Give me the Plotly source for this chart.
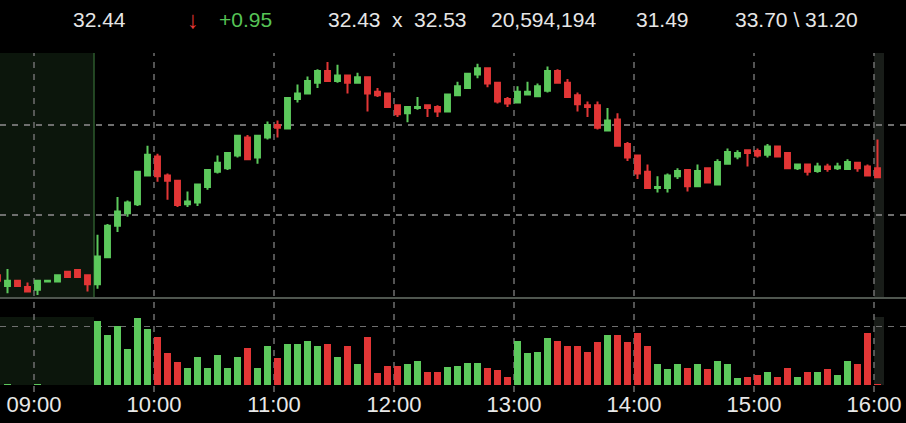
import plotly.graph_objects as go
import pandas as pd

# ---------------- data (5-minute bars) ----------------
times = ["08:40", "08:45", "08:50", "08:55", "09:00", "09:05", "09:10", "09:15", "09:20", "09:25",
         "09:30", "09:35", "09:40", "09:45", "09:50", "09:55",
         "10:00", "10:05", "10:10", "10:15", "10:20", "10:25", "10:30", "10:35", "10:40", "10:45", "10:50", "10:55",
         "11:00", "11:05", "11:10", "11:15", "11:20", "11:25", "11:30", "11:35", "11:40", "11:45", "11:50", "11:55",
         "12:00", "12:05", "12:10", "12:15", "12:20", "12:25", "12:30", "12:35", "12:40", "12:45", "12:50", "12:55",
         "13:00", "13:05", "13:10", "13:15", "13:20", "13:25", "13:30", "13:35", "13:40", "13:45", "13:50", "13:55",
         "14:00", "14:05", "14:10", "14:15", "14:20", "14:25", "14:30", "14:35", "14:40", "14:45", "14:50", "14:55",
         "15:00", "15:05", "15:10", "15:15", "15:20", "15:25", "15:30", "15:35", "15:40", "15:45", "15:50", "15:55",
         "16:00"]

opens = [31.33, 31.21, 31.27, 31.20, 31.17, 31.26, 31.26, 31.37, 31.39, 31.33,
         31.23, 31.53, 31.88, 32.02, 32.12, 32.44,
         32.65, 32.44, 32.38, 32.12, 32.14, 32.31, 32.48, 32.52, 32.66, 32.86, 32.64, 32.86,
         33.00, 32.96, 33.29, 33.35, 33.47, 33.60, 33.49, 33.55, 33.47, 33.53, 33.37, 33.35,
         33.22, 33.13, 33.19, 33.22, 33.20, 33.15, 33.33, 33.41, 33.56, 33.63, 33.47, 33.29,
         33.25, 33.34, 33.32, 33.38, 33.60, 33.47, 33.33, 33.22, 33.22, 32.94, 33.06, 32.79,
         32.66, 32.48, 32.30, 32.30, 32.43, 32.50, 32.32, 32.52, 32.34, 32.57, 32.65, 32.72,
         32.71, 32.67, 32.76, 32.69, 32.52, 32.56, 32.49, 32.54, 32.52, 32.51, 32.58, 32.54,
         32.52]

highs = [31.33, 31.40, 31.27, 31.25, 31.28, 31.27, 31.33, 31.37, 31.39, 31.33,
         31.78, 31.90, 32.20, 32.16, 32.48, 32.77,
         32.68, 32.46, 32.39, 32.26, 32.34, 32.50, 32.66, 32.70, 32.88, 32.89, 32.88, 33.04,
         33.05, 33.30, 33.45, 33.54, 33.62, 33.70, 33.67, 33.55, 33.58, 33.53, 33.41, 33.35,
         33.22, 33.20, 33.31, 33.22, 33.22, 33.34, 33.48, 33.57, 33.68, 33.63, 33.48, 33.31,
         33.43, 33.48, 33.46, 33.65, 33.62, 33.51, 33.36, 33.26, 33.26, 33.19, 33.13, 32.81,
         32.67, 32.56, 32.43, 32.46, 32.52, 32.50, 32.56, 32.52, 32.62, 32.74, 32.72, 32.72,
         32.74, 32.79, 32.76, 32.69, 32.56, 32.56, 32.58, 32.57, 32.58, 32.62, 32.58, 32.56,
         32.84]

lows = [31.26, 31.13, 31.21, 31.15, 31.11, 31.25, 31.26, 31.31, 31.31, 31.15,
        31.18, 31.52, 31.81, 31.98, 32.10, 32.44,
        32.37, 32.17, 32.09, 32.09, 32.10, 32.28, 32.46, 32.50, 32.64, 32.62, 32.57, 32.84,
        32.86, 32.96, 33.25, 33.35, 33.41, 33.49, 33.47, 33.35, 33.47, 33.15, 33.31, 33.19,
        33.09, 33.03, 33.17, 33.09, 33.09, 33.15, 33.33, 33.40, 33.52, 33.42, 33.24, 33.20,
        33.25, 33.34, 33.31, 33.36, 33.47, 33.30, 33.15, 33.09, 32.95, 32.93, 32.77, 32.60,
        32.40, 32.30, 32.25, 32.25, 32.40, 32.26, 32.32, 32.36, 32.34, 32.57, 32.62, 32.54,
        32.64, 32.64, 32.65, 32.52, 32.50, 32.44, 32.47, 32.48, 32.50, 32.51, 32.48, 32.43,
        32.42]

closes = [31.27, 31.27, 31.21, 31.15, 31.27, 31.27, 31.33, 31.31, 31.31, 31.23,
          31.54, 31.88, 32.04, 32.14, 32.48, 32.67,
          32.43, 32.38, 32.11, 32.15, 32.34, 32.50, 32.58, 32.69, 32.88, 32.62, 32.88, 33.00,
          32.97, 33.30, 33.35, 33.49, 33.60, 33.49, 33.55, 33.47, 33.53, 33.35, 33.33, 33.20,
          33.12, 33.20, 33.20, 33.19, 33.15, 33.34, 33.43, 33.57, 33.63, 33.46, 33.26, 33.24,
          33.37, 33.37, 33.43, 33.60, 33.47, 33.31, 33.23, 33.20, 32.97, 33.05, 32.77, 32.64,
          32.46, 32.30, 32.31, 32.44, 32.49, 32.32, 32.49, 32.36, 32.59, 32.70, 32.69, 32.69,
          32.66, 32.76, 32.65, 32.52, 32.56, 32.48, 32.54, 32.51, 32.54, 32.59, 32.52, 32.44,
          32.42]

# volume in thousands of shares
volumes = [0, 6, 0, 0, 6, 0, 0, 0, 0, 0,
           386, 300, 354, 214, 400, 334,
           290, 190, 136, 104, 170, 104, 180, 104, 170, 224, 104, 234,
           160, 244, 244, 266, 234, 244, 170, 234, 126, 290, 70, 116,
           116, 126, 146, 80, 80, 106, 114, 134, 134, 104, 90, 50,
           266, 190, 200, 280, 266, 234, 234, 200, 256, 300, 300, 256,
           310, 234, 126, 94, 126, 104, 126, 94, 146, 126, 40, 50,
           60, 80, 50, 104, 50, 80, 80, 94, 60, 146, 126, 310,
           6]

hour_ticks = ["09:00", "10:00", "11:00", "12:00", "13:00", "14:00", "15:00", "16:00"]
price_grid = [32, 33]
volume_grid = [350]

header_items = [
    ("32.44", 99, "#e6e6e6", 21),
    ("\u2193", 193, "#e53935", 24),
    ("+0.95", 245, "#56c456", 21),
    ("32.43", 354, "#e6e6e6", 21),
    ("x", 397, "#e6e6e6", 21),
    ("32.53", 440, "#e6e6e6", 21),
    ("20,594,194", 543, "#e6e6e6", 21),
    ("31.49", 662, "#e6e6e6", 21),
    ("33.70 \\ 31.20", 796, "#e6e6e6", 21),
]

# ---------------- styling ----------------
W, H = 906, 423
GREEN = "#5cc95c"
RED = "#e23636"
GRID = "#6f6f6f"
DAY = "2024-01-02 "

def py(px):  # paper fraction from pixel row
    return 1 - px / H

t = pd.to_datetime([DAY + s for s in times]) + pd.Timedelta(seconds=105)
vol_colors = [GREEN if c >= o else RED for o, c in zip(opens, closes)]

fig = go.Figure()
fig.add_trace(go.Candlestick(
    x=t, open=opens, high=highs, low=lows, close=closes,
    increasing=dict(line=dict(color=GREEN, width=2), fillcolor=GREEN),
    decreasing=dict(line=dict(color=RED, width=2), fillcolor=RED),
    whiskerwidth=0, xaxis="x", yaxis="y", hoverinfo="skip",
))
fig.add_trace(go.Bar(
    x=t, y=volumes, marker=dict(color=vol_colors, line=dict(width=0)),
    width=200000, xaxis="x2", yaxis="y2", hoverinfo="skip",
))

x_start = pd.Timestamp(DAY + "09:00") - pd.Timedelta(minutes=17)
x_range = [x_start, x_start + pd.Timedelta(minutes=W / 2)]

shapes = []
# session shading
for yref in ["y domain", "y2 domain"]:
    shapes.append(dict(type="rect", xref="x", yref=yref, x0=DAY + "08:00", x1=DAY + "09:30",
                       y0=0, y1=1, fillcolor="#0c160c", line=dict(width=0), layer="below"))
    shapes.append(dict(type="rect", xref="x", yref=yref, x0=DAY + "16:00", x1=DAY + "16:05",
                       y0=0, y1=1, fillcolor="#191d19", line=dict(width=0), layer="below"))
shapes.append(dict(type="line", xref="x", yref="y domain", x0=DAY + "09:30", x1=DAY + "09:30",
                   y0=0, y1=1, line=dict(color="#2d5a2d", width=1.5), layer="below"))
# vertical hour grid spanning both panes
for h in hour_ticks:
    shapes.append(dict(type="line", xref="x", yref="paper", x0=DAY + h, x1=DAY + h,
                       y0=py(392), y1=py(53), line=dict(color=GRID, width=1.5, dash="6px,6px"),
                       layer="below"))

annotations = []
for txt, xpx, col, sz in header_items:
    annotations.append(dict(text=txt, x=xpx / W, y=py(20), xref="paper", yref="paper",
                            xanchor="center", yanchor="middle", showarrow=False,
                            font=dict(family="Liberation Sans, Arial", size=sz, color=col)))

fig.update_layout(
    width=W, height=H, margin=dict(l=0, r=0, t=0, b=0),
    paper_bgcolor="#000000", plot_bgcolor="rgba(0,0,0,0)",
    showlegend=False, bargap=0,
    shapes=shapes, annotations=annotations,
    xaxis=dict(domain=[0, 1], anchor="y", type="date", range=x_range,
               rangeslider=dict(visible=False), showgrid=False, showticklabels=False,
               showline=True, linecolor="#4f564f", linewidth=2, ticks="", zeroline=False),
    yaxis=dict(domain=[py(297), py(53)], anchor="x", range=[31.089, 33.8],
               tickvals=price_grid, showticklabels=False, showgrid=True,
               gridcolor=GRID, gridwidth=1.5, griddash="6px,6px", zeroline=False, showline=False),
    xaxis2=dict(domain=[0, 1], anchor="y2", type="date", range=x_range, matches="x",
                tickvals=[DAY + h for h in hour_ticks], ticktext=hour_ticks,
                tickfont=dict(family="Liberation Sans, Arial", size=22, color="#e8e8e8"),
                ticklabelstandoff=4,
                showgrid=False, showline=False, ticks="", zeroline=False),
    yaxis2=dict(domain=[py(385), py(317)], anchor="x2", range=[0, 408],
                tickvals=volume_grid, showticklabels=False, showgrid=True,
                gridcolor=GRID, gridwidth=1.5, griddash="6px,6px", zeroline=False, showline=False),
)

fig.write_html("out.html", config={"displayModeBar": False, "staticPlot": True},
               post_script="document.body.style.margin='0';document.body.style.background='#000';")
